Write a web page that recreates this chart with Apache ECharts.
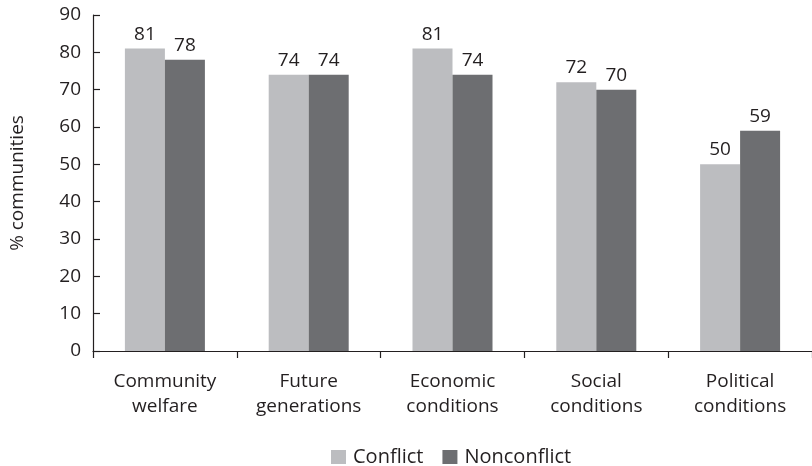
<!DOCTYPE html>
<html>
<head>
<meta charset="utf-8">
<script src="https://cdn.jsdelivr.net/npm/echarts@6/dist/echarts.min.js"></script>
<style>
  html, body { margin: 0; padding: 0; background: #fff; }
  #chart { width: 812px; height: 466px; }
</style>
</head>
<body>
<div id="chart"></div>
<script>
// Share of communities citing each consideration, by conflict status
const categories = ['Community\nwelfare', 'Future\ngenerations', 'Economic\nconditions', 'Social\nconditions', 'Political\nconditions'];
const conflictValues = [81, 74, 81, 72, 50];
const nonconflictValues = [78, 74, 74, 70, 59];
const yTicks = { min: 0, max: 90, interval: 10 };

const FONT = 'Open Sans';
const FS = 19;
const TEXT = '#231f20';
const AXIS = '#231f20';

const chart = echarts.init(document.getElementById('chart'), null, { renderer: 'canvas' });

const labelStyle = {
  show: true,
  position: 'top',
  distance: 5,
  color: TEXT,
  fontFamily: FONT,
  fontSize: FS
};

chart.setOption({
  animation: false,
  backgroundColor: '#ffffff',
  textStyle: { fontFamily: FONT, color: TEXT },
  grid: { left: 93, right: 0, top: 15, bottom: 115, containLabel: false, outerBoundsMode: 'none' },
  legend: {
    top: 442,
    left: 326,
    itemWidth: 15,
    itemHeight: 14,
    itemGap: 19,
    icon: 'rect',
    textStyle: { fontFamily: FONT, fontSize: 20, color: TEXT, padding: [0, 0, 0, 2] },
    data: ['Conflict', 'Nonconflict']
  },
  xAxis: {
    type: 'category',
    data: categories,
    axisLine: { lineStyle: { color: AXIS, width: 1.2 } },
    axisTick: { show: true, inside: false, length: 7, alignWithLabel: false, lineStyle: { color: AXIS, width: 1.2 } },
    axisLabel: { color: TEXT, fontFamily: FONT, fontSize: FS, lineHeight: 25, margin: 18, interval: 0 }
  },
  yAxis: {
    type: 'value',
    min: yTicks.min,
    max: yTicks.max,
    interval: yTicks.interval,
    name: '% communities',
    nameLocation: 'middle',
    nameGap: 66,
    nameRotate: 90,
    nameTextStyle: { color: TEXT, fontFamily: FONT, fontSize: FS },
    axisLine: { show: true, lineStyle: { color: AXIS, width: 1.2 } },
    axisTick: { show: true, inside: true, length: 7, lineStyle: { color: AXIS, width: 1.2 } },
    axisLabel: { color: TEXT, fontFamily: FONT, fontSize: FS, margin: 12 },
    splitLine: { show: false }
  },
  series: [
    {
      name: 'Conflict',
      type: 'bar',
      data: conflictValues,
      barWidth: 40,
      barGap: '0%',
      itemStyle: { color: '#bcbdc0' },
      label: labelStyle
    },
    {
      name: 'Nonconflict',
      type: 'bar',
      data: nonconflictValues,
      barWidth: 40,
      itemStyle: { color: '#6d6e71' },
      label: labelStyle
    }
  ]
});
</script>
</body>
</html>
